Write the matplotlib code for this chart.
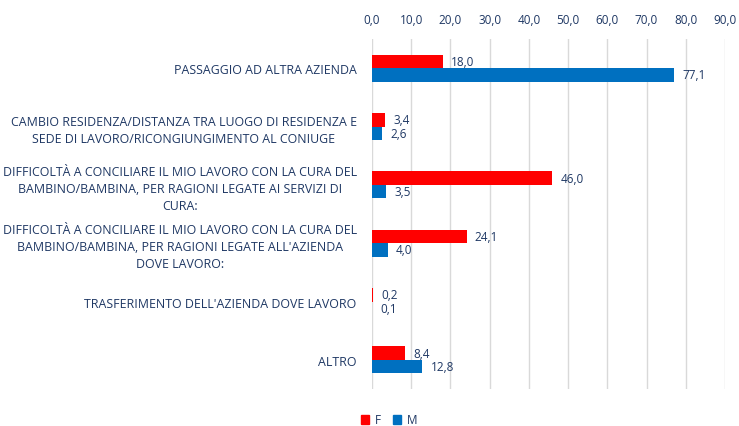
import numpy as np
import matplotlib.pyplot as plt
from matplotlib.patches import Patch

categories = [
    "PASSAGGIO AD ALTRA AZIENDA",
    "CAMBIO RESIDENZA/DISTANZA TRA LUOGO DI RESIDENZA E\nSEDE DI LAVORO/RICONGIUNGIMENTO AL CONIUGE",
    "DIFFICOLTÀ A CONCILIARE IL MIO LAVORO CON LA CURA DEL\nBAMBINO/BAMBINA, PER RAGIONI LEGATE AI SERVIZI DI\nCURA:",
    "DIFFICOLTÀ A CONCILIARE IL MIO LAVORO CON LA CURA DEL\nBAMBINO/BAMBINA, PER RAGIONI LEGATE ALL'AZIENDA\nDOVE LAVORO:",
    "TRASFERIMENTO DELL'AZIENDA DOVE LAVORO",
    "ALTRO",
]
f_values = [18.0, 3.4, 46.0, 24.1, 0.2, 8.4]
m_values = [77.1, 2.6, 3.5, 4.0, 0.1, 12.8]
ticks = np.arange(0, 100, 10)

text_col = "#1F3864"
red = "#FF0000"
blue = "#0070C0"

plt.rcParams['font.family'] = ['Open Sans', 'DejaVu Sans']

fig = plt.figure(figsize=(7.39, 4.27), dpi=100)
ax = fig.add_axes([372 / 739, 1 - 390 / 427, (725 - 372) / 739, 350 / 427])

y = np.arange(len(categories))
h = 0.23
ax.barh(y - h / 2, f_values, height=h, color=red, label="F", zorder=3)
ax.barh(y + h / 2, m_values, height=h, color=blue, label="M", zorder=3)

def fmt(v):
    return f"{v:.1f}".replace(".", ",")

for yi, fv, mv in zip(y, f_values, m_values):
    ax.annotate(fmt(fv), (fv, yi - h / 2), xytext=(6, 0), textcoords="offset points",
                va="center", ha="left", fontsize=8.5, color=text_col)
    ax.annotate(fmt(mv), (mv, yi + h / 2), xytext=(6, 0), textcoords="offset points",
                va="center", ha="left", fontsize=8.5, color=text_col)

ax.set_xlim(0, 90)
ax.set_ylim(len(categories) - 0.5, -0.5)
ax.set_xticks(ticks)
ax.set_xticklabels([fmt(t) for t in ticks], fontsize=8.5, color=text_col)
ax.xaxis.tick_top()
ax.tick_params(axis="x", length=0, pad=9)
ax.set_yticks(y)
ax.set_yticklabels(categories, fontsize=8.9, color=text_col, multialignment="center",
                   linespacing=1.38)
ax.tick_params(axis="y", length=0, pad=11)
ax.grid(axis="x", color="#D9D9D9", linewidth=1, zorder=0)
for s in ax.spines.values():
    s.set_visible(False)

handles = [Patch(color=red, label="F"), Patch(color=blue, label="M")]
fig.legend(handles=handles, loc="center left", bbox_to_anchor=(350 / 739, 1 - 421 / 427),
           ncol=2, frameon=False, fontsize=8.5, handlelength=0.7, handleheight=0.7,
           handletextpad=0.5, columnspacing=1.0, labelcolor=text_col)

fig.savefig("out.png", dpi=100)
